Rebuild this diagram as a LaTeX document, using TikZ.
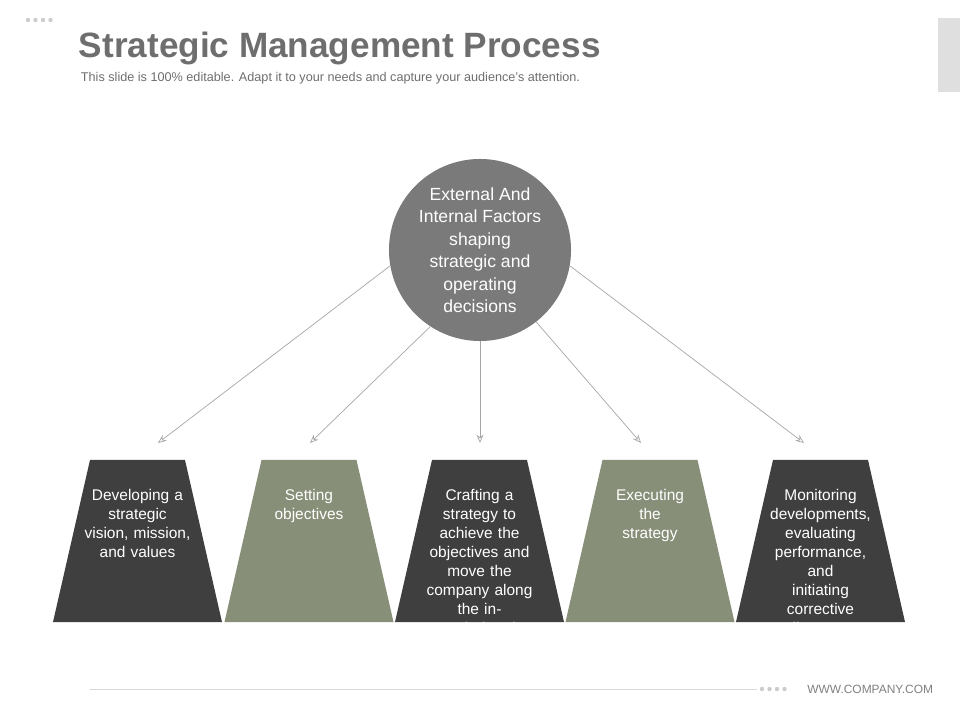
\documentclass[tikz,border=0pt]{standalone}
\usepackage{fontspec}
\setmainfont{Liberation Sans}
\usetikzlibrary{arrows.meta}
\definecolor{darkbox}{HTML}{3F3F3F}
\definecolor{greenbox}{HTML}{878F78}
\definecolor{circlegray}{HTML}{7A7A7A}
\definecolor{titlegray}{HTML}{6E6E6E}
\begin{document}
\begin{tikzpicture}[x=0.025cm,y=-0.025cm,
        arrowline/.style={draw=gray!70,line width=0.5pt,-{Stealth[length=6pt,width=5pt,open]}},
        boxtext/.style={text=white,align=center,font=\fontsize{11}{13.5}\selectfont,text width=2.9cm,anchor=north},
        ]
        \useasboundingbox (0,0) rectangle (960,720);
        % header
        \foreach \i in {0,...,3}{
            \fill[gray!40] (28+\i*7.5,20) circle (2.2);
        }
        \fill[gray!25] (938,18) rectangle (960,92);
        \node[anchor=west,text=titlegray,font=\fontsize{25}{28}\selectfont\bfseries] (title) at (74,48) {Strategic Management Process};
        \node[anchor=west,text=titlegray,font=\fontsize{9}{11}\selectfont] (sub) at (76,78) {This slide is 100\% editable. Adapt it to your needs and capture your audience's attention.};
        % centre
        \node[circle,fill=circlegray,minimum size=4.55cm,inner sep=0] (c) at (480,250) {};
        \node[text=white,align=center,font=\fontsize{12.5}{16}\selectfont] at (c) {External And\\Internal Factors\\shaping\\strategic and\\operating\\decisions};
        % trapezoids
        \foreach \x/\col/\n in {137.5/darkbox/1,309/greenbox/2,479.5/darkbox/3,650/greenbox/4,820.5/darkbox/5}{
            \fill[\col] (\x-47.5,460) -- (\x+47.5,460) -- (\x+84.5,622) -- (\x-84.5,622) -- cycle;
            \node[boxtext] (t\n) at (\x,479) {};
        }
        \node[boxtext] at (t1) {Developing a\\strategic\\vision, mission,\\and values};
        \node[boxtext] at (t2) {Setting\\objectives};
        \node[boxtext] at (t3) {Crafting a\\strategy to\\achieve the\\objectives and\\move the\\company along\\the intended path};
        \node[boxtext] at (t4) {Executing\\the\\strategy};
        \node[boxtext] at (t5) {Monitoring\\developments,\\evaluating\\performance, and\\initiating\\corrective\\adjustments};
        % arrows
        \coordinate (e1) at (158,443);
        \coordinate (e2) at (310,443);
        \coordinate (e3) at (480,443);
        \coordinate (e4) at (641,443);
        \coordinate (e5) at (804,443);
        \draw[arrowline] (c.190) -- (e1);
        \draw[arrowline] (c.237) -- (e2);
        \draw[arrowline] (c.south) -- (e3);
        \draw[arrowline] (c.-52) -- (e4);
        \draw[arrowline] (c.-10) -- (e5);
        % footer
        \coordinate (f1) at (90,689);
        \coordinate (f2) at (757,689);
        \draw[gray!30,line width=0.6pt] (f1) -- (f2);
        \foreach \i in {0,...,3}{
            \fill[gray!40] (762+\i*7.5,689) circle (2.2);
        }
        \node[anchor=east,text=gray,font=\fontsize{8.5}{10}\selectfont] (web) at (938,689) {WWW.COMPANY.COM};
\end{tikzpicture}
\end{document}
